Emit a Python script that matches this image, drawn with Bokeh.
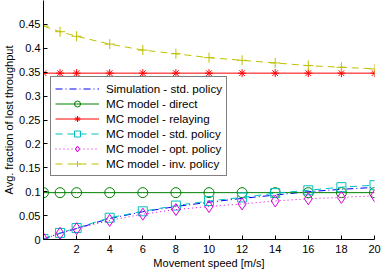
from bokeh.plotting import figure
from bokeh.models import Range1d, FixedTicker, Legend, LegendItem, CustomJSTickFormatter
from bokeh.embed import file_html
from bokeh.resources import INLINE

speed = [0, 1, 2, 4, 6, 8, 10, 12, 14, 16, 18, 20]
sim_std = [0.001, 0.013, 0.023, 0.044, 0.058, 0.069, 0.078, 0.086, 0.093, 0.100, 0.105, 0.109]
mc_direct = [0.098, 0.098, 0.098, 0.098, 0.098, 0.098, 0.098, 0.098, 0.098, 0.098, 0.098, 0.098]
mc_relaying = [0.348, 0.348, 0.348, 0.348, 0.348, 0.348, 0.348, 0.348, 0.348, 0.348, 0.348, 0.348]
mc_std = [0.001, 0.0138, 0.024, 0.0455, 0.059, 0.071, 0.0806, 0.088, 0.097, 0.103, 0.1095, 0.1136]
mc_opt = [0.001, 0.013, 0.0227, 0.040, 0.053, 0.0626, 0.069, 0.0744, 0.0806, 0.0853, 0.088, 0.0915]
mc_inv = [0.4465, 0.4347, 0.4252, 0.4087, 0.3963, 0.3886, 0.3804, 0.3748, 0.3694, 0.3638, 0.3603, 0.357]

x_ticks = [2, 4, 6, 8, 10, 12, 14, 16, 18, 20]
y_ticks = [0, 0.05, 0.1, 0.15, 0.2, 0.25, 0.3, 0.35, 0.4, 0.45]

labels = ["Simulation - std. policy", "MC model - direct", "MC model - relaying",
          "MC model - std. policy", "MC model - opt. policy", "MC model - inv. policy"]

FONT = "Liberation Sans"

p = figure(width=382, height=271, output_backend="svg", toolbar_location=None,
           x_range=Range1d(0, 20), y_range=Range1d(0, 0.5),
           min_border_left=41, min_border_right=8, min_border_top=0, min_border_bottom=30)
p.outline_line_color = None
p.xgrid.grid_line_color = None
p.ygrid.grid_line_color = None
p.background_fill_color = "white"

for ax in (p.xaxis[0], p.yaxis[0]):
    ax.major_tick_in = 4
    ax.major_tick_out = 0
    ax.minor_tick_in = 0
    ax.minor_tick_out = 0
    ax.axis_line_color = "black"
    ax.major_tick_line_color = "black"
    ax.major_label_text_font = FONT
    ax.major_label_text_font_size = "11px"
    ax.major_label_text_color = "black"
    ax.axis_label_text_font = FONT
    ax.axis_label_text_font_size = "11px"
    ax.axis_label_text_font_style = "normal"
    ax.axis_label_text_color = "black"

p.xaxis.ticker = FixedTicker(ticks=x_ticks)
p.yaxis.ticker = FixedTicker(ticks=y_ticks)
p.yaxis.formatter = CustomJSTickFormatter(code="return String(Math.round(tick*100)/100);")
p.xaxis.axis_label = "Movement speed [m/s]"
p.yaxis.axis_label = "Avg. fraction of lost throughput"
p.xaxis.major_label_standoff = 5
p.yaxis.major_label_standoff = 3
p.xaxis.axis_label_standoff = 1
p.yaxis.axis_label_standoff = 1

blue = "#0000FF"
green = "#008000"
red = "#FF0000"
cyan = "#00BFBF"
magenta = "#D800D8"
yellow = "#BFBF00"

r_sim = p.line(speed, sim_std, line_color=blue, line_width=1, line_dash="7 3 1 3")

l_dir = p.line(speed, mc_direct, line_color=green, line_width=1)
s_dir = p.scatter(speed, mc_direct, marker="circle", size=10, fill_color=None, line_color=green)

l_rel = p.line(speed, mc_relaying, line_color=red, line_width=1)
s_rel = p.scatter(speed, mc_relaying, marker="asterisk", size=8, line_color=red)

l_std = p.line(speed, mc_std, line_color=cyan, line_width=1, line_dash="7 5")
s_std = p.scatter(speed, mc_std, marker="square", size=9, fill_color=None, line_color=cyan)

l_opt = p.line(speed, mc_opt, line_color=magenta, line_width=1, line_dash="1 3")
s_opt = p.scatter(speed, mc_opt, marker="diamond", size=12, fill_color=None, line_color=magenta)

l_inv = p.line(speed, mc_inv, line_color=yellow, line_width=1, line_dash="7 5")
s_inv = p.scatter(speed, mc_inv, marker="cross", size=10, line_color=yellow)

items = [
    LegendItem(label=labels[0], renderers=[r_sim]),
    LegendItem(label=labels[1], renderers=[l_dir, s_dir]),
    LegendItem(label=labels[2], renderers=[l_rel, s_rel]),
    LegendItem(label=labels[3], renderers=[l_std, s_std]),
    LegendItem(label=labels[4], renderers=[l_opt, s_opt]),
    LegendItem(label=labels[5], renderers=[l_inv, s_inv]),
]
legend = Legend(items=items, location=(7, 63), border_line_color="black", border_line_width=1,
                background_fill_color="white", background_fill_alpha=1.0,
                label_text_font=FONT, label_text_font_size="11.6px", label_text_color="black",
                glyph_width=44, glyph_height=15, label_height=15, label_standoff=7,
                spacing=0, padding=4, margin=0)
p.add_layout(legend)

html = file_html(p, INLINE)
html = html.replace("<head>", "<head><style>html,body{margin:0;padding:0;}</style>", 1)
open("out.html", "w").write(html)
